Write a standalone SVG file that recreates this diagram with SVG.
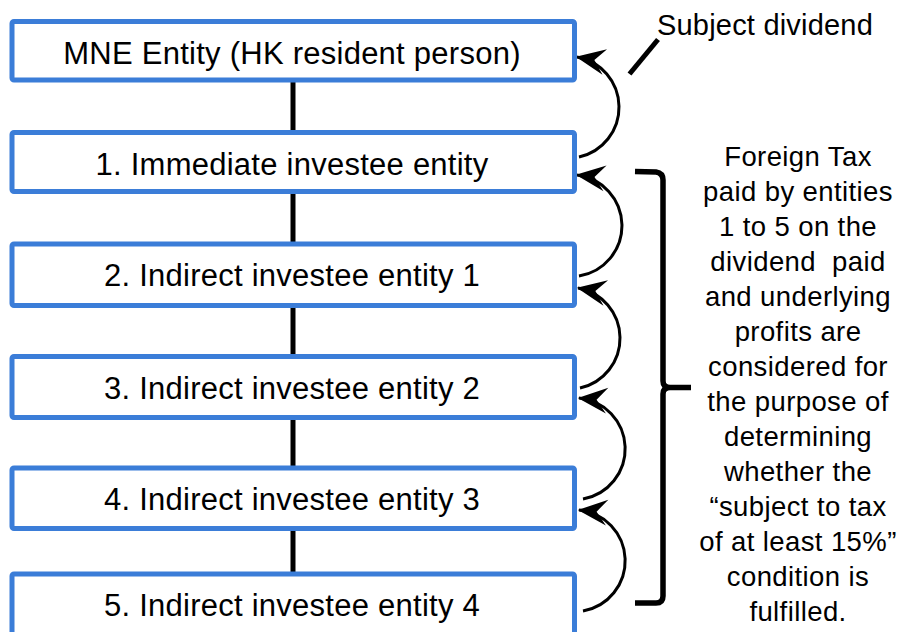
<svg xmlns="http://www.w3.org/2000/svg" width="898" height="632" viewBox="0 0 898 632">
<style>
.box{fill:#fff;stroke:#3B7DD8;stroke-width:5}
.bt{font-family:"Liberation Sans",Arial,sans-serif;font-size:31px;letter-spacing:0.25px;fill:#000;text-anchor:middle}
.rt{font-family:"Liberation Sans",Arial,sans-serif;font-size:27.5px;letter-spacing:0.4px;fill:#000;text-anchor:middle}
.link{stroke:#000;stroke-width:5;fill:none}
.arc{stroke:#000;stroke-width:3;fill:none;marker-end:url(#ah)}
</style>
<defs>
<marker id="ah" markerUnits="userSpaceOnUse" markerWidth="40" markerHeight="40" viewBox="-30 -15 34 30" refX="0" refY="0" orient="auto">
<path d="M1,0 L-24,-11 L-15,0 L-24,11 Z" fill="#000"/>
</marker>
</defs>
<rect width="898" height="632" fill="#fff"/>
<g id="connectors">
<line class="link" x1="293" y1="80" x2="293" y2="132.5"/>
<line class="link" x1="293" y1="191.5" x2="293" y2="244"/>
<line class="link" x1="293" y1="305.5" x2="293" y2="356.5"/>
<line class="link" x1="293" y1="417.5" x2="293" y2="468"/>
<line class="link" x1="293" y1="528.5" x2="293" y2="574"/>
<path class="arc" d="M579,157 A51,51 0 0 0 577,57"/>
<path class="arc" d="M579,276 A51,51 0 0 0 577,175"/>
<path class="arc" d="M580,388 A51,51 0 0 0 578,288"/>
<path class="arc" d="M583,499 A51,51 0 0 0 579,398"/>
<path class="arc" d="M583,611 A51,51 0 0 0 579,510"/>
<line x1="629.5" y1="74" x2="658" y2="39.5" stroke="#000" stroke-width="5"/>
<path d="M635,171.5 L656,172 Q663,173 663,180 L663,381 Q663,387.5 670,387.5 L691,387.5 M670,387.5 Q663,387.5 663,394 L663,596 Q663,603 656,603 L635,603" stroke="#000" stroke-width="5.5" fill="none"/>
</g>
<g id="mne">
<rect class="box" x="12" y="21.5" width="562.5" height="58.5" rx="2"/>
<text class="bt" x="292" y="63.5">MNE Entity (HK resident person)</text>
</g>
<g id="e1">
<rect class="box" x="12" y="132.5" width="562.5" height="59" rx="2"/>
<text class="bt" x="292" y="175">1. Immediate investee entity</text>
</g>
<g id="e2">
<rect class="box" x="12" y="244" width="562.5" height="61.5" rx="2"/>
<text class="bt" x="292" y="286">2. Indirect investee entity 1</text>
</g>
<g id="e3">
<rect class="box" x="12" y="356.5" width="562.5" height="61" rx="2"/>
<text class="bt" x="292" y="398.5">3. Indirect investee entity 2</text>
</g>
<g id="e4">
<rect class="box" x="12" y="468" width="562.5" height="60.5" rx="2"/>
<text class="bt" x="292" y="510">4. Indirect investee entity 3</text>
</g>
<g id="e5">
<rect class="box" x="12" y="574" width="562.5" height="62" rx="2"/>
<text class="bt" x="292" y="616">5. Indirect investee entity 4</text>
</g>
<g id="label-subject">
<text x="657" y="35" font-family="Liberation Sans, Arial, sans-serif" font-size="29px" letter-spacing="0.2px">Subject dividend</text>
</g>
<g id="label-foreign">
<text class="rt" x="798" y="166">Foreign Tax</text>
<text class="rt" x="798" y="201">paid by entities</text>
<text class="rt" x="798" y="236">1 to 5 on the</text>
<text class="rt" x="798" y="271" xml:space="preserve">dividend  paid</text>
<text class="rt" x="798" y="306">and underlying</text>
<text class="rt" x="798" y="341">profits are</text>
<text class="rt" x="798" y="376">considered for</text>
<text class="rt" x="798" y="411">the purpose of</text>
<text class="rt" x="798" y="446">determining</text>
<text class="rt" x="798" y="481">whether the</text>
<text class="rt" x="798" y="516">“subject to tax</text>
<text class="rt" x="798" y="551">of at least 15%”</text>
<text class="rt" x="798" y="586">condition is</text>
<text class="rt" x="798" y="621">fulfilled.</text>
</g>
</svg>
